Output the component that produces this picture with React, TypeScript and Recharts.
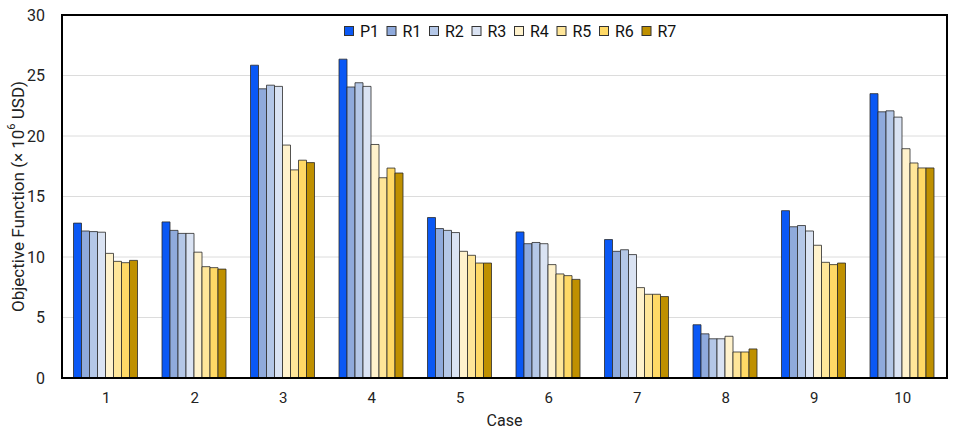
import { Bar, BarChart, CartesianGrid, Legend, XAxis, YAxis, usePlotArea } from "recharts";

const cases = ["1", "2", "3", "4", "5", "6", "7", "8", "9", "10"];
const seriesNames = ["P1", "R1", "R2", "R3", "R4", "R5", "R6", "R7"];
const seriesColors = ["#0a58f5", "#8faadc", "#b4c7e7", "#dae3f3", "#fff2cc", "#ffe699", "#ffd966", "#bf9000"];

const p1 = [12.8, 12.9, 25.85, 26.35, 13.26, 12.07, 11.44, 4.4, 13.83, 23.5];
const r1 = [12.15, 12.2, 23.9, 24.05, 12.35, 11.1, 10.47, 3.65, 12.5, 22.0];
const r2 = [12.1, 11.95, 24.2, 24.4, 12.2, 11.2, 10.6, 3.24, 12.6, 22.08];
const r3 = [12.05, 11.95, 24.1, 24.1, 12.02, 11.1, 10.2, 3.24, 12.15, 21.56];
const r4 = [10.3, 10.4, 19.25, 19.3, 10.47, 9.37, 7.47, 3.45, 10.97, 18.95];
const r5 = [9.64, 9.2, 17.2, 16.55, 10.14, 8.6, 6.92, 2.15, 9.56, 17.77];
const r6 = [9.53, 9.12, 18.0, 17.35, 9.5, 8.46, 6.92, 2.15, 9.37, 17.36];
const r7 = [9.72, 9.0, 17.8, 16.94, 9.5, 8.15, 6.73, 2.4, 9.5, 17.36];

const yTicks = [0, 5, 10, 15, 20, 25, 30];

const seriesValues = [p1, r1, r2, r3, r4, r5, r6, r7];
const data = cases.map((c, i) => {
  const row: Record<string, string | number> = { case: c };
  seriesNames.forEach((name, s) => {
    row[name] = seriesValues[s][i];
  });
  return row;
});

const font = "Roboto, 'Noto Sans', sans-serif";

// legend drawn as a small svg row: square + name, fixed step per item
function LegendContent() {
  const step = 42.5;
  const w = 894;
  const start = w / 2 - (step * seriesNames.length - 6) / 2;
  return (
    <svg width={w} height={20} style={{ display: "block" }}>
      {seriesNames.map((name, i) => {
        const x = start + i * step;
        return (
          <g key={name}>
            <rect x={x + 0.5} y={4.5} width={9} height={9} fill={seriesColors[i]} stroke="#333" strokeWidth={1} />
            <text x={x + 16} y={9} dominantBaseline="central" fontFamily={font} fontSize={16} fill="#111">
              {name}
            </text>
          </g>
        );
      })}
    </svg>
  );
}

// black frame round the plot area
function Frame() {
  const area = usePlotArea ? usePlotArea() : undefined;
  if (!area) return null;
  return (
    <rect
      x={area.x}
      y={area.y}
      width={area.width}
      height={area.height}
      fill="none"
      stroke="#000"
      strokeWidth={2}
    />
  );
}

function YLabel({ viewBox }: any) {
  const cx = 18;
  const cy = viewBox.y + viewBox.height / 2;
  return (
    <text
      x={cx}
      y={cy}
      transform={`rotate(-90, ${cx}, ${cy})`}
      textAnchor="middle"
      dominantBaseline="central"
      fontFamily={font}
      fontSize={17}
      fill="#222"
    >
      Objective Function (× 10
      <tspan fontSize={11} dy={-7}>6</tspan>
      <tspan dy={7}> USD)</tspan>
    </text>
  );
}

export default function App() {
  return (
    <div style={{ position: "absolute", left: 0, top: 0, background: "#fff" }}>
      <BarChart
        width={958}
        height={430}
        data={data}
        margin={{ top: 15, right: 11, bottom: 0, left: 0 }}
        barCategoryGap="13%"
        barGap={0}
      >
        <CartesianGrid vertical={false} stroke="#dcdcdc" strokeWidth={1} />
        <XAxis
          dataKey="case"
          height={52}
          tickLine={false}
          tickMargin={8}
          axisLine={{ stroke: "#000", strokeWidth: 2 }}
          tick={{ fontFamily: font, fontSize: 15, fill: "#222" }}
          label={{ value: "Case", position: "insideBottom", offset: 4, fontFamily: font, fontSize: 16, fill: "#222" }}
        />
        <YAxis
          width={62}
          domain={[0, 30]}
          ticks={yTicks}
          tickLine={false}
          tickMargin={11}
          axisLine={{ stroke: "#000", strokeWidth: 2 }}
          tick={{ fontFamily: font, fontSize: 16, fill: "#222" }}
          label={<YLabel />}
        />
        {/* middle alignment so the legend takes no room from the plot; placed over it by wrapperStyle */}
        <Legend
          verticalAlign="middle"
          wrapperStyle={{ top: 22, left: 64, width: 894 }}
          content={<LegendContent />}
        />
        {seriesNames.map((name, i) => (
          <Bar
            key={name}
            dataKey={name}
            name={name}
            fill={seriesColors[i]}
            stroke="#2a2a2a"
            strokeWidth={0.8}
            isAnimationActive={false}
          />
        ))}
        <Frame />
      </BarChart>
    </div>
  );
}
